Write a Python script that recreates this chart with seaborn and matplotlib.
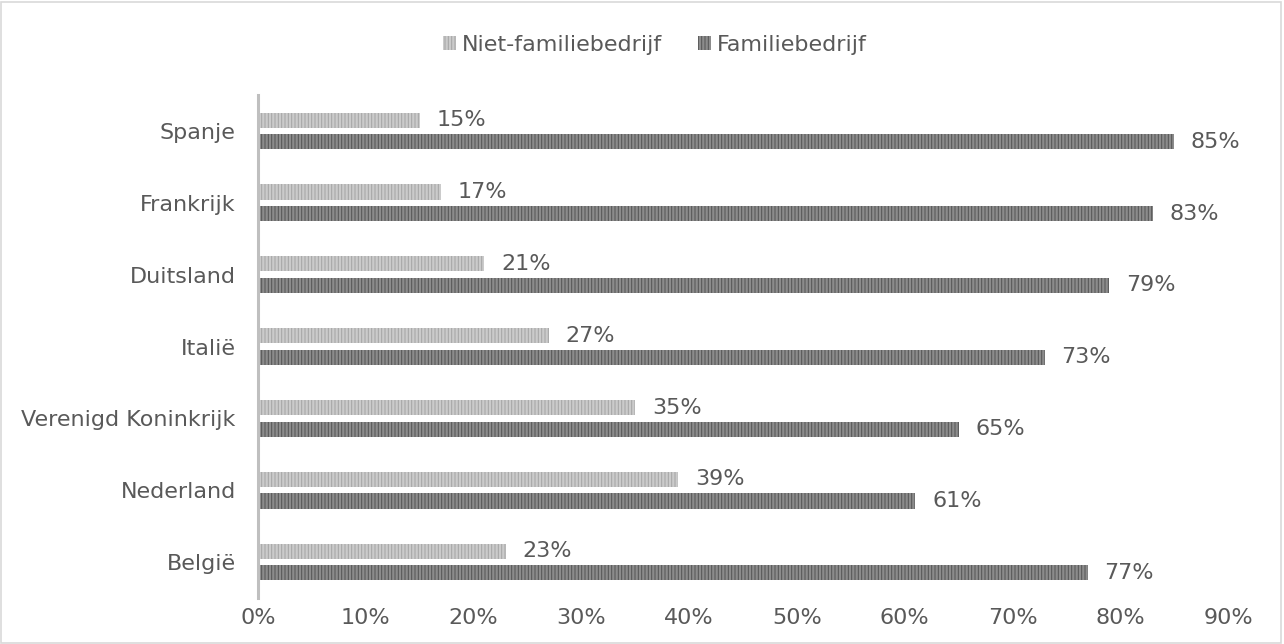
import matplotlib
matplotlib.use("Agg")
import matplotlib.pyplot as plt
import seaborn as sns
import pandas as pd
from matplotlib.patches import Rectangle

countries = ["Spanje", "Frankrijk", "Duitsland", "Italië", "Verenigd Koninkrijk", "Nederland", "België"]
niet_familie = [0.15, 0.17, 0.21, 0.27, 0.35, 0.39, 0.23]
familie = [0.85, 0.83, 0.79, 0.73, 0.65, 0.61, 0.77]
series = ["Niet-familiebedrijf", "Familiebedrijf"]
xticks = [0, 0.1, 0.2, 0.3, 0.4, 0.5, 0.6, 0.7, 0.8, 0.9]

df = pd.DataFrame({
    "land": countries * 2,
    "waarde": niet_familie + familie,
    "type": [series[0]] * len(countries) + [series[1]] * len(countries),
})

sns.set_theme(style="white")
plt.rcParams["font.family"] = ["DejaVu Sans"]
plt.rcParams["hatch.linewidth"] = 0.75

TXT = "#595959"
FS = 16
face = {series[0]: "#cbcbcb", series[1]: "#8c8c8c"}
hatchc = {series[0]: "#a6a6a6", series[1]: "#575757"}

fig = plt.figure(figsize=(12.84, 6.44), dpi=100)
ax = fig.add_axes([0.2009, 0.0714, 0.7555, 0.7811])

sns.barplot(data=df, y="land", x="waarde", hue="type", hue_order=series,
            order=countries, orient="h", width=0.6, ax=ax, legend=False,
            palette=face, saturation=1)

bar_h = 0.21
for cont, s in zip(ax.containers, series):
    for p in cont.patches:
        cy = p.get_y() + p.get_height() / 2
        p.set_height(bar_h)
        p.set_y(cy - bar_h / 2)
        p.set_facecolor(face[s])
        p.set_edgecolor(hatchc[s])
        p.set_hatch("|||||")
        p.set_linewidth(0)
    labels = [f"{v*100:.0f}%" for v in cont.datavalues]
    ax.bar_label(cont, labels=labels, padding=12, fontsize=FS, color=TXT)

ax.set_xlim(0, 0.9)
ax.set_ylim(len(countries) - 0.5, -0.5)
ax.set_xticks(xticks)
ax.set_xticklabels([f"{t*100:.0f}%" for t in xticks])
ax.set_xlabel("")
ax.set_ylabel("")
ax.tick_params(axis="x", length=0, pad=7, labelsize=FS, labelcolor=TXT)
ax.tick_params(axis="y", length=0, pad=16, labelsize=FS, labelcolor=TXT)
for side in ["top", "right", "bottom"]:
    ax.spines[side].set_visible(False)
ax.spines["left"].set_color("#bfbfbf")
ax.spines["left"].set_linewidth(2.2)
ax.grid(False)

handles = [Rectangle((0, 0), 1, 1, facecolor=face[s], edgecolor=hatchc[s],
                     hatch="|||||", linewidth=0) for s in series]
leg = fig.legend(handles, series, loc="upper center", bbox_to_anchor=(0.51, 0.977),
                 ncol=2, frameon=False, fontsize=FS, handlelength=0.6,
                 handleheight=0.6, handletextpad=0.25, columnspacing=1.6)
for t in leg.get_texts():
    t.set_color(TXT)

fig.patches.append(Rectangle((0.001, 0.002), 0.997, 0.995, transform=fig.transFigure,
                             fill=False, edgecolor="#d9d9d9", linewidth=1.2))

fig.savefig("out.png", dpi=100)
